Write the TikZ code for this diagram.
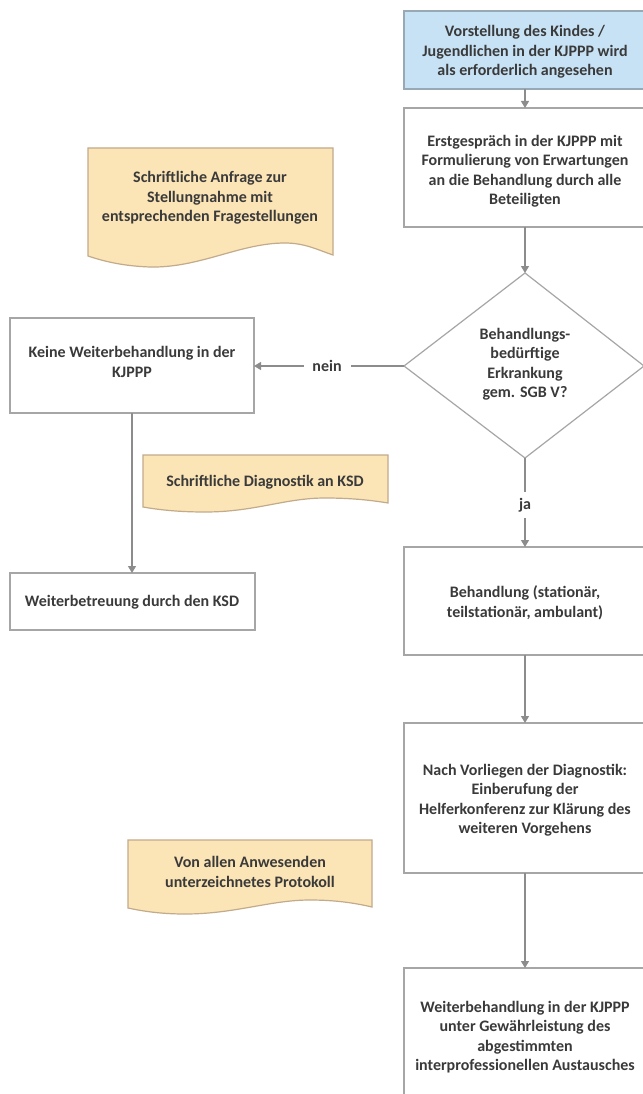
\documentclass[tikz,border=0pt]{standalone}
\usepackage{fontspec}
\setmainfont{Carlito}
\usetikzlibrary{arrows.meta}
\definecolor{txt}{HTML}{3A3A3A}
\definecolor{boxline}{HTML}{A6A6A6}
\definecolor{arrowc}{HTML}{8C8C8C}
\definecolor{bluefill}{HTML}{C8E2F5}
\definecolor{blueline}{HTML}{98A8B4}
\definecolor{notefill}{HTML}{FBE4B6}
\definecolor{noteline}{HTML}{C2AB8A}
\tikzset{
  lbl/.style={text=txt, font=\bfseries\fontsize{16}{19.5}\selectfont, align=center, inner sep=0pt},
  procbox/.style={draw=boxline, line width=1.2pt, fill=white},
  startbox/.style={draw=blueline, line width=1.2pt, fill=bluefill},
  notebox/.style={draw=noteline, line width=1.2pt, fill=notefill},
  flow/.style={draw=arrowc, line width=1.2pt, -{Triangle[width=8pt,length=7pt]}},
  plain/.style={draw=arrowc, line width=1.2pt}
}
\begin{document}
\begin{tikzpicture}[x=1pt,y=-1pt]
\useasboundingbox (0,0) rectangle (642,1094);
\fill[white] (0,0) rectangle (642,1094);
% right column boxes
\draw[startbox] (404,11) rectangle (650,89);
\node[lbl] (start) at (525,52) {Vorstellung des Kindes /\\Jugendlichen in der KJPPP wird\\als erforderlich angesehen};
\draw[procbox] (404,108) rectangle (650,227);
\node[lbl] (erst) at (525,171) {Erstgespräch in der KJPPP mit\\Formulierung von Erwartungen\\an die Behandlung durch alle\\Beteiligten};
\draw[procbox] (525,273) -- (644,366) -- (525,458) -- (404,366) -- cycle;
\node[lbl] (dec) at (525,364) {Behandlungs-\\bedürftige\\Erkrankung\\gem. SGB V?};
\coordinate (dtop) at (525,273);
\coordinate (dleft) at (404,366);
\coordinate (dbot) at (525,458);
\draw[procbox] (404,547) rectangle (650,655);
\node[lbl] (beh) at (525,603) {Behandlung (stationär,\\teilstationär, ambulant)};
\draw[procbox] (404,723) rectangle (650,873);
\node[lbl] (nach) at (525,800) {Nach Vorliegen der Diagnostik:\\Einberufung der\\Helferkonferenz zur Klärung des\\weiteren Vorgehens};
\draw[procbox] (404,968) rectangle (650,1110);
\node[lbl] (weiter) at (525,1037) {Weiterbehandlung in der KJPPP\\unter Gewährleistung des\\abgestimmten\\interprofessionellen Austausches};
% left column boxes
\draw[procbox] (10,318) rectangle (254,413);
\node[lbl] (keine) at (132,362) {Keine Weiterbehandlung in der\\KJPPP};
\draw[procbox] (10,573) rectangle (255,630);
\node[lbl] (ksd) at (132,602) {Weiterbetreuung durch den KSD};
% notes
\draw[notebox] (88,148) -- (333,148) -- (333,255)
  .. controls (318,250) and (305,243) .. (285,243)
  .. controls (240,243) and (200,268) .. (150,267)
  .. controls (120,266) and (100,260) .. (88,256) -- cycle;
\node[lbl] (n1) at (210,198) {Schriftliche Anfrage zur\\Stellungnahme mit\\entsprechenden Fragestellungen};
\draw[notebox] (143,455) -- (388,455) -- (388,503)
  .. controls (370,500) and (350,498) .. (325,498)
  .. controls (285,498) and (255,512) .. (205,512)
  .. controls (180,512) and (160,510) .. (143,507) -- cycle;
\node[lbl] (n2) at (265,482) {Schriftliche Diagnostik an KSD};
\draw[notebox] (128,840) -- (372,840) -- (372,907)
  .. controls (355,903) and (335,900) .. (310,900)
  .. controls (270,900) and (235,914) .. (185,914)
  .. controls (160,914) and (142,911) .. (128,908) -- cycle;
\node[lbl] (n3) at (250,872) {Von allen Anwesenden\\unterzeichnetes Protokoll};
% connectors
\coordinate (startb) at (525,89);
\coordinate (erstt) at (525,108);
\coordinate (erstb) at (525,227);
\coordinate (keiner) at (254,366);
\coordinate (keineb) at (132,413);
\coordinate (ksdt) at (132,573);
\coordinate (beht) at (525,547);
\coordinate (behb) at (525,655);
\coordinate (nacht) at (525,723);
\coordinate (nachb) at (525,873);
\coordinate (weitert) at (525,968);
\draw[flow] (startb) -- (erstt);
\draw[flow] (erstb) -- (dtop);
\draw[plain] (dleft) -- (351,366);
\draw[flow] (304,366) -- (keiner);
\node[lbl] (nein) at (327,366) {nein};
\draw[plain] (dbot) -- (525,492);
\node[lbl] (ja) at (525,505) {ja};
\draw[flow] (525,518) -- (beht);
\draw[flow] (keineb) -- (ksdt);
\draw[flow] (behb) -- (nacht);
\draw[flow] (nachb) -- (weitert);
\end{tikzpicture}
\end{document}
